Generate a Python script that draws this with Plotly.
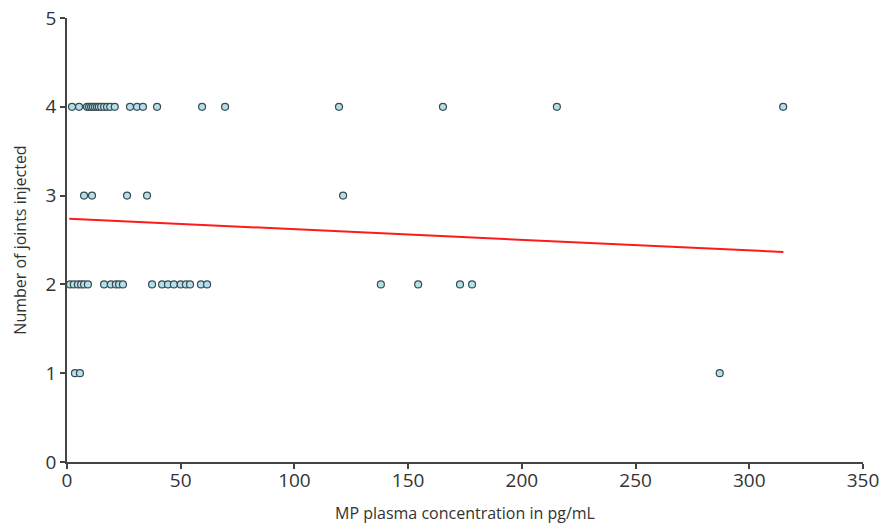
import plotly.graph_objects as go

# MP plasma concentration (pg/mL) and number of joints injected
conc_4 = [2.2, 5.3, 8.8, 9.7, 10.6, 11.4, 12.3, 13.2, 14.0, 15.0, 16.3, 17.6, 19.0, 21.0,
          27.7, 30.8, 33.4, 39.6, 59.4, 69.5, 119.6, 165.3, 215.4, 314.9]
conc_3 = [7.5, 11.0, 26.4, 35.2, 121.4]
conc_2 = [1.3, 3.0, 4.8, 6.2, 7.5, 9.2, 16.3, 19.3, 21.5, 22.9, 24.6, 37.4, 41.8, 44.4,
          47.0, 50.0, 52.3, 54.1, 58.9, 61.6, 138.0, 154.4, 172.8, 178.1]
conc_1 = [3.5, 5.7, 287.0]

x_vals = conc_4 + conc_3 + conc_2 + conc_1
y_vals = [4] * len(conc_4) + [3] * len(conc_3) + [2] * len(conc_2) + [1] * len(conc_1)

# Linear trend line endpoints
fit_x = [1.0, 315.0]
fit_y = [2.74, 2.365]

x_ticks = [0, 50, 100, 150, 200, 250, 300, 350]
y_ticks = [0, 1, 2, 3, 4, 5]

fig = go.Figure()
fig.add_trace(go.Scatter(
    x=fit_x, y=fit_y, mode="lines",
    line=dict(color="#ff1a1a", width=2), hoverinfo="skip", showlegend=False))
fig.add_trace(go.Scatter(
    x=x_vals, y=y_vals, mode="markers",
    marker=dict(size=7, color="#b0e0ec", line=dict(color="#3d4a50", width=1.2)),
    showlegend=False))

axis_common = dict(
    showgrid=False, zeroline=False, showline=True, linecolor="#444", linewidth=1.5,
    ticks="outside", ticklen=5, tickcolor="#444", tickwidth=1.5, automargin=False,
    ticklabeloverflow="allow",
    tickfont=dict(family="Open Sans", size=19, color="#333"),
)

fig.update_layout(
    width=881, height=524,
    margin=dict(l=67, r=18, t=18, b=62),
    paper_bgcolor="white", plot_bgcolor="white",
    font=dict(family="Open Sans", color="#333"),
    xaxis=dict(range=[0, 350], tickvals=x_ticks, ticklabelstandoff=-5,
               title=dict(text="MP plasma concentration in pg/mL",
                          font=dict(family="Open Sans", size=16, color="#333"), standoff=21),
               **axis_common),
    yaxis=dict(range=[0, 5], tickvals=y_ticks,
               title=dict(text="Number of joints injected",
                          font=dict(family="Open Sans", size=16, color="#333"), standoff=15),
               **axis_common),
)

fig.write_html("out.html", config={"displayModeBar": False},
               post_script="document.body.style.margin='0';")
